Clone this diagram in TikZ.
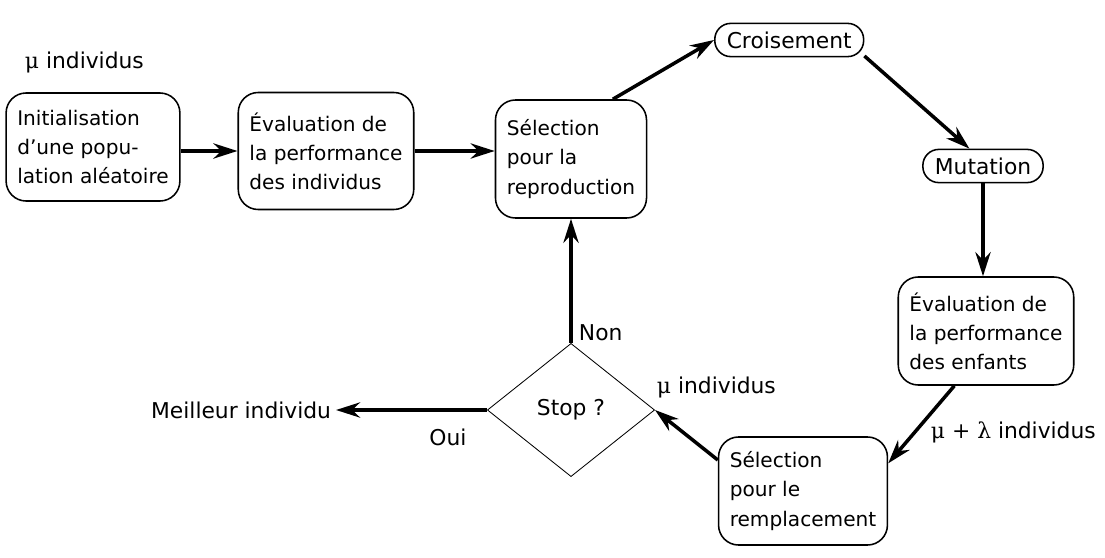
\documentclass[tikz,border=0pt]{standalone}
\usepackage{fontspec}
\setmainfont{DejaVu Sans}
\newfontfamily\grk{DejaVu Serif}
\usetikzlibrary{positioning,arrows.meta,calc,shapes.geometric}

\begin{document}
\begin{tikzpicture}[
  x=0.025cm, y=-0.025cm,
  every node/.style={font=\fontsize{15.5}{20.5}\selectfont},
  box/.style={draw, line width=1.1pt, rounded corners=0.5cm, align=left,
    inner xsep=0.28cm, inner ysep=0.2cm, font=\fontsize{14.3}{20.7}\selectfont},
  pill/.style={draw, line width=1.1pt, rounded corners=0.4cm,
    minimum height=0.83cm, inner xsep=0.3cm},
  decision/.style={draw, diamond, line width=0.6pt, minimum width=4.18cm,
    minimum height=3.33cm, inner sep=0pt},
  arrow/.style={-{Stealth[length=0.6cm, width=0.38cm]}, line width=2.5pt}
]
  \useasboundingbox (0,0) rectangle (1105,558);

  \node (init)  [box, minimum width=4.15cm, minimum height=2.7cm] at (93,147)
    {Initialisation\\d’une popu-\\lation aléatoire};
  \node (eval1) [box, minimum width=4.175cm, minimum height=2.925cm] at (326,151)
    {Évaluation de\\la performance\\des individus};
  \node (sel1)  [box, minimum width=3.775cm, minimum height=2.95cm] at (571,159)
    {Sélection\\pour la\\reproduction};
  \node (crois) [pill, anchor=west] at (714,40) {Croisement};
  \node (mut)   [pill] at (983,166) {Mutation};
  \node (eval2) [box, minimum width=4.0cm, minimum height=2.7cm] at (986,331)
    {Évaluation de\\la performance\\des enfants};
  \node (sel2)  [box, minimum width=4.0cm, minimum height=2.7cm] at (803,491)
    {Sélection\\pour le\\remplacement};
  \node (stop)  [decision] at (571,410) {Stop ?};
  \node (best)  [anchor=east] at (336,410) {Meilleur individu};

  % labels
  \node (mu0)  [anchor=west] at (20,62) {{\grk μ} individus};
  \node (mu1)  [anchor=west] at (652,387) {{\grk μ} individus};
  \node (mula) [anchor=west] at (926,432) {{\grk μ + λ} individus};
  \node (non)  [anchor=west] at (574,333) {Non};
  \node (oui)  at (448,437) {Oui};

  \draw[arrow] (init.east |- eval1.west) -- (eval1.west);
  \draw[arrow] (eval1.east) -- (eval1.east -| sel1.west);
  \draw[arrow] (sel1.55) -- (crois.west);
  \draw[arrow] (crois.-12) -- (mut.128);
  \draw[arrow] (mut.south) -- (mut.south |- eval2.north);
  \draw[arrow] (eval2.240) -- (sel2.18);
  \draw[arrow] (sel2.160) -- (stop.east);
  \draw[arrow] (stop.north) -- (stop.north |- sel1.south);
  \draw[arrow] (stop.west) -- (stop.west -| best.east);
\end{tikzpicture}
\end{document}
